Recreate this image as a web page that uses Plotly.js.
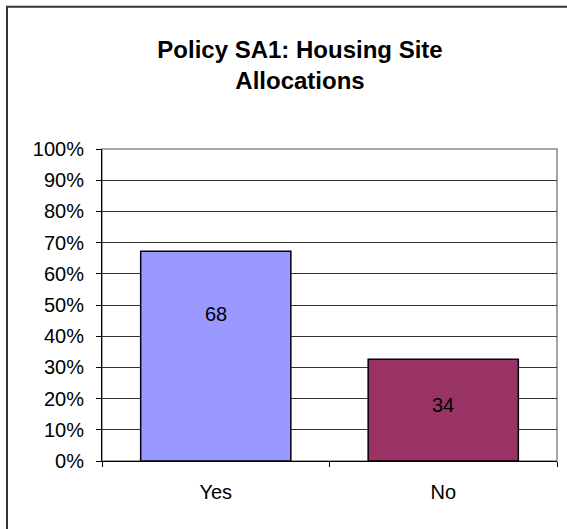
<!DOCTYPE html>
<html>
<head>
<meta charset="utf-8">
<script src="https://cdn.plot.ly/plotly-3.0.1.min.js"></script>
<style>html,body{margin:0;padding:0;background:#fff;}#chart{width:567px;height:529px;}</style>
</head>
<body>
<div id="chart"></div>
<script>
const categories = ["Yes", "No"];
const counts = [68, 34];
const percents = [67.2, 32.6];
const barColors = ["#9999FF", "#993366"];
const yTickVals = [0,10,20,30,40,50,60,70,80,90,100];
const yTickText = ["0%","10%","20%","30%","40%","50%","60%","70%","80%","90%","100%"];

const labelShift = [42, 5];

const trace = {
  type: "bar",
  x: categories,
  y: percents,
  marker: {color: barColors, line: {color: "#000", width: 1.5}},
  hoverinfo: "none",
  width: 0.66
};

const annotations = categories.map((c, i) => ({
  x: c, y: percents[i] / 2, xref: "x", yref: "y",
  text: String(counts[i]), showarrow: false, yshift: labelShift[i],
  font: {family: "Liberation Sans, Arial, sans-serif", size: 20, color: "#000"}
}));

const layout = {
  width: 567, height: 529,
  margin: {l: 102, r: 10, t: 149, b: 68},
  paper_bgcolor: "#fff", plot_bgcolor: "#fff",
  showlegend: false,
  font: {family: "Liberation Sans, Arial, sans-serif", size: 20, color: "#000"},
  title: {
    text: "<b>Policy SA1: Housing Site<br>Allocations</b>",
    x: 300/567, xref: "container", xanchor: "center",
    y: 1 - 58/529, yref: "container", yanchor: "top",
    font: {size: 24, color: "#000"}
  },
  xaxis: {
    type: "category",
    range: [-0.5, 1.5],
    showline: true, linecolor: "#000", linewidth: 1,
    ticks: "outside", ticklen: 5, tickcolor: "#000", tickson: "boundaries",
    showgrid: false, zeroline: false,
    ticklabelstandoff: 13,
    fixedrange: true
  },
  yaxis: {
    range: [0, 100],
    tickvals: yTickVals, ticktext: yTickText,
    showline: true, linecolor: "#000", linewidth: 1,
    ticks: "outside", ticklen: 5, tickcolor: "#000",
    showgrid: true, gridcolor: "#333", gridwidth: 1,
    zeroline: false,
    ticklabelstandoff: 8,
    fixedrange: true
  },
  shapes: [
    {type: "rect", xref: "paper", yref: "paper", x0: 0, x1: 1, y0: 0, y1: 1,
     line: {color: "#888", width: 1.5}, layer: "below"},
    {type: "rect", xref: "paper", yref: "paper", x0: -0.2088, x1: 1.1, y0: -0.3, y1: 1.456,
     line: {color: "#333", width: 2}, layer: "below"}
  ],
  annotations: annotations
};

Plotly.newPlot("chart", [trace], layout, {displayModeBar: false, staticPlot: true});
</script>
</body>
</html>
